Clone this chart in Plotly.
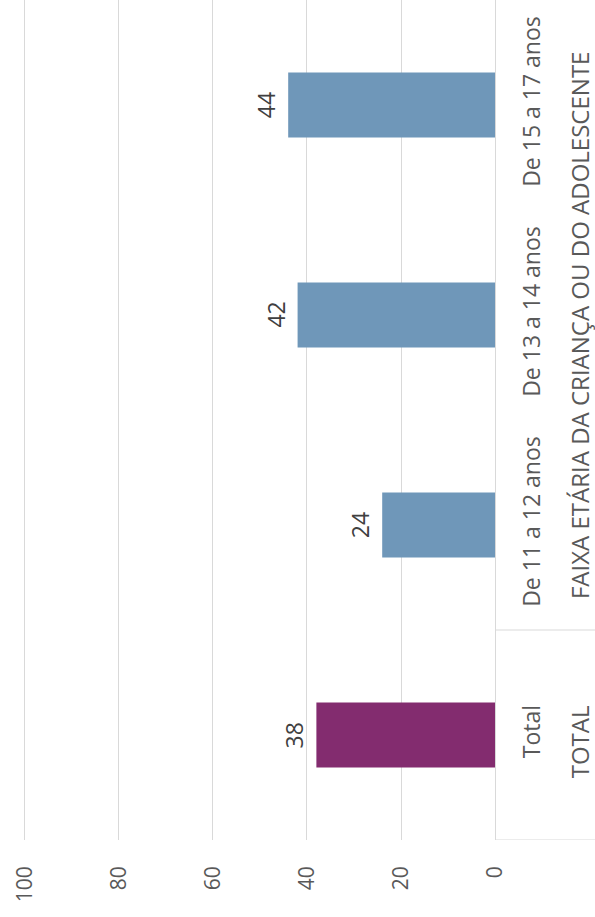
import plotly.graph_objects as go

categories = ["Total", "De 11 a 12 anos", "De 13 a 14 anos", "De 15 a 17 anos"]
values = [38, 24, 42, 44]
colors = ["#832c6f", "#6f97b9", "#6f97b9", "#6f97b9"]
group_labels = ["TOTAL", "FAIXA ETÁRIA DA CRIANÇA OU DO ADOLESCENTE"]
x_ticks = [0, 20, 40, 60, 80, 100]

FONT = "Open Sans"
GRAY = "#595959"

fig = go.Figure()
fig.add_trace(go.Bar(
    y=categories,
    x=values,
    orientation="h",
    marker=dict(color=colors, line=dict(width=0)),
    width=0.31,
    hoverinfo="skip",
))

# data labels, placed next to bar ends
for c, v in zip(categories, values):
    fig.add_annotation(text=str(v), x=v, y=c, xref="x", yref="y",
                       xanchor="center", yanchor="middle",
                       xshift=-22, textangle=-90, showarrow=False,
                       font=dict(family=FONT, size=23, color="#404040"))

fig.update_layout(
    width=595, height=917,
    margin=dict(l=20, r=100, t=0, b=77, autoexpand=False),
    paper_bgcolor="white", plot_bgcolor="white",
    showlegend=False,
    font=dict(family=FONT, size=22, color=GRAY),
    xaxis=dict(
        range=[101.06, 0],
        tickvals=x_ticks,
        ticktext=[str(t) for t in x_ticks],
        tickangle=-90,
        showgrid=True, gridcolor="#d9d9d9", gridwidth=1,
        zeroline=False, showline=False,
        ticks="", ticklabelstandoff=21,
        automargin=False,
        tickfont=dict(family=FONT, size=21, color=GRAY),
    ),
    yaxis=dict(
        type="category",
        categoryorder="array", categoryarray=categories,
        range=[-0.5, 3.5],
        side="right",
        tickangle=-90,
        showgrid=False, zeroline=False,
        showline=True, linecolor="#d9d9d9", linewidth=1,
        ticks="", ticklabelstandoff=16,
        automargin=False,
        tickfont=dict(family=FONT, size=23, color=GRAY),
    ),
)

# group divider lines (multi-level category axis)
for yv in [-0.5, 0.5]:
    fig.add_shape(type="line", xref="paper", yref="y",
                  x0=1.0, x1=1.22, y0=yv, y1=yv,
                  line=dict(color="#d9d9d9", width=1))

# group labels
fig.add_annotation(text=group_labels[0], xref="paper", yref="y",
                   x=1.1768, y=-0.03, xanchor="center", yanchor="middle",
                   textangle=-90, showarrow=False,
                   font=dict(family=FONT, size=24, color=GRAY))
fig.add_annotation(text=group_labels[1], xref="paper", yref="y",
                   x=1.1768, y=1.952, xanchor="center", yanchor="middle",
                   textangle=-90, showarrow=False,
                   font=dict(family=FONT, size=24, color=GRAY))

fig.write_html("out.html",
               config={"displayModeBar": False},
               post_script="document.body.style.margin='0';document.body.style.padding='0';")
